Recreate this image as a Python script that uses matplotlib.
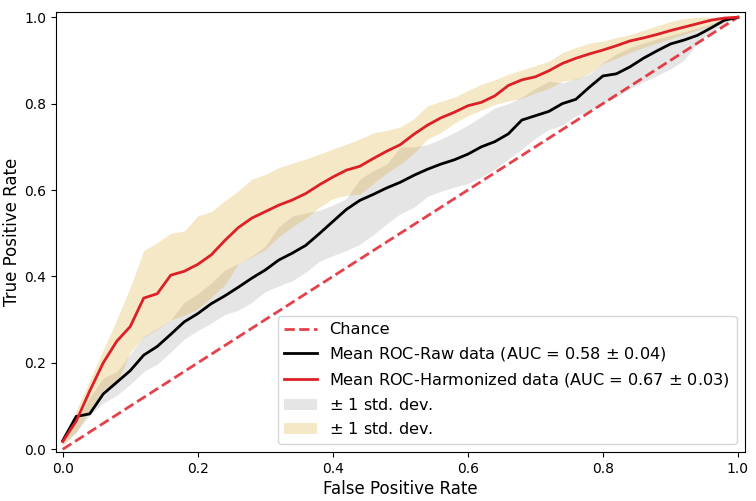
import numpy as np
import matplotlib
matplotlib.use("Agg")
import matplotlib.pyplot as plt

# false positive rate grid
fpr = np.round(np.arange(0, 1.0001, 0.02), 2)

# mean ROC, raw data
tpr_raw = [0.020, 0.076, 0.082, 0.128, 0.155, 0.182, 0.218, 0.238, 0.266, 0.295,
           0.314, 0.337, 0.355, 0.375, 0.396, 0.415, 0.438, 0.454, 0.472, 0.499,
           0.527, 0.555, 0.576, 0.590, 0.605, 0.618, 0.634, 0.648, 0.660, 0.670,
           0.683, 0.700, 0.712, 0.730, 0.762, 0.772, 0.782, 0.800, 0.810, 0.838,
           0.864, 0.869, 0.885, 0.905, 0.922, 0.938, 0.947, 0.958, 0.975, 0.993,
           1.000]
raw_upper = [0.030, 0.060, 0.120, 0.165, 0.180, 0.220, 0.262, 0.280, 0.300, 0.340,
             0.360, 0.385, 0.415, 0.430, 0.447, 0.470, 0.515, 0.540, 0.547, 0.553,
             0.565, 0.580, 0.625, 0.645, 0.660, 0.700, 0.700, 0.705, 0.718, 0.733,
             0.750, 0.770, 0.790, 0.800, 0.815, 0.835, 0.852, 0.848, 0.858, 0.868,
             0.895, 0.915, 0.930, 0.940, 0.950, 0.958, 0.966, 0.975, 0.985, 0.995,
             1.000]
raw_lower = [0.010, 0.040, 0.080, 0.107, 0.125, 0.150, 0.180, 0.197, 0.225, 0.255,
             0.275, 0.292, 0.312, 0.322, 0.340, 0.365, 0.378, 0.390, 0.410, 0.435,
             0.448, 0.460, 0.474, 0.497, 0.522, 0.545, 0.560, 0.585, 0.597, 0.607,
             0.615, 0.630, 0.648, 0.672, 0.695, 0.720, 0.740, 0.750, 0.772, 0.783,
             0.800, 0.815, 0.835, 0.850, 0.865, 0.880, 0.900, 0.940, 0.965, 0.985,
             1.000]

# mean ROC, harmonized data
tpr_harm = [0.018, 0.065, 0.135, 0.200, 0.250, 0.284, 0.350, 0.360, 0.403, 0.412,
            0.428, 0.450, 0.483, 0.513, 0.535, 0.550, 0.565, 0.577, 0.592, 0.612,
            0.630, 0.646, 0.655, 0.673, 0.690, 0.705, 0.729, 0.750, 0.767, 0.780,
            0.795, 0.803, 0.818, 0.842, 0.855, 0.862, 0.876, 0.893, 0.905, 0.915,
            0.924, 0.934, 0.945, 0.952, 0.960, 0.969, 0.977, 0.985, 0.993, 0.998,
            1.000]
harm_upper = [0.025, 0.090, 0.160, 0.230, 0.300, 0.375, 0.460, 0.478, 0.500, 0.505,
              0.540, 0.550, 0.575, 0.598, 0.625, 0.636, 0.652, 0.662, 0.672, 0.683,
              0.695, 0.706, 0.718, 0.732, 0.738, 0.746, 0.765, 0.795, 0.805, 0.815,
              0.830, 0.845, 0.855, 0.868, 0.878, 0.888, 0.898, 0.918, 0.930, 0.940,
              0.945, 0.953, 0.960, 0.970, 0.980, 0.990, 0.997, 1.000, 1.000, 1.000,
              1.000]
harm_lower = [0.010, 0.040, 0.090, 0.138, 0.150, 0.225, 0.260, 0.278, 0.300, 0.310,
              0.325, 0.352, 0.380, 0.430, 0.445, 0.462, 0.492, 0.515, 0.535, 0.560,
              0.580, 0.588, 0.590, 0.615, 0.640, 0.660, 0.685, 0.718, 0.733, 0.755,
              0.772, 0.785, 0.798, 0.806, 0.812, 0.825, 0.835, 0.852, 0.856, 0.870,
              0.893, 0.905, 0.918, 0.930, 0.940, 0.950, 0.960, 0.970, 0.980, 0.990,
              1.000]

auc_raw, std_raw = 0.58, 0.04
auc_harm, std_harm = 0.67, 0.03

plt.rcParams["font.family"] = "DejaVu Sans"

fig = plt.figure(figsize=(7.56, 5.01), dpi=100)
ax = fig.add_axes([0.074, 0.098, 0.911, 0.878])

ax.plot([0, 1], [0, 1], linestyle="--", lw=2, color="#e0202a", alpha=0.85,
        label="Chance")
ax.plot(fpr, tpr_raw, color="black", lw=2,
        label="Mean ROC-Raw data (AUC = %0.2f $\\pm$ %0.2f)" % (auc_raw, std_raw))
ax.plot(fpr, tpr_harm, color="#dc2026", lw=2,
        label="Mean ROC-Harmonized data (AUC = %0.2f $\\pm$ %0.2f)" % (auc_harm, std_harm))
ax.fill_between(fpr, raw_lower, raw_upper, color="grey", alpha=0.2, lw=0,
                label="$\\pm$ 1 std. dev.")
ax.fill_between(fpr, harm_lower, harm_upper, color="goldenrod", alpha=0.25, lw=0,
                label="$\\pm$ 1 std. dev.")

ax.set_xlim(-0.01, 1.01)
ax.set_ylim(-0.006, 1.012)
ax.set_xticks([0.0, 0.2, 0.4, 0.6, 0.8, 1.0])
ax.set_yticks([0.0, 0.2, 0.4, 0.6, 0.8, 1.0])
ax.tick_params(labelsize=10)
ax.set_xlabel("False Positive Rate", fontsize=12, labelpad=3)
ax.set_ylabel("True Positive Rate", fontsize=12, labelpad=2)
ax.legend(loc="lower right", fontsize=11.6)

fig.savefig("out.png", dpi=100)
